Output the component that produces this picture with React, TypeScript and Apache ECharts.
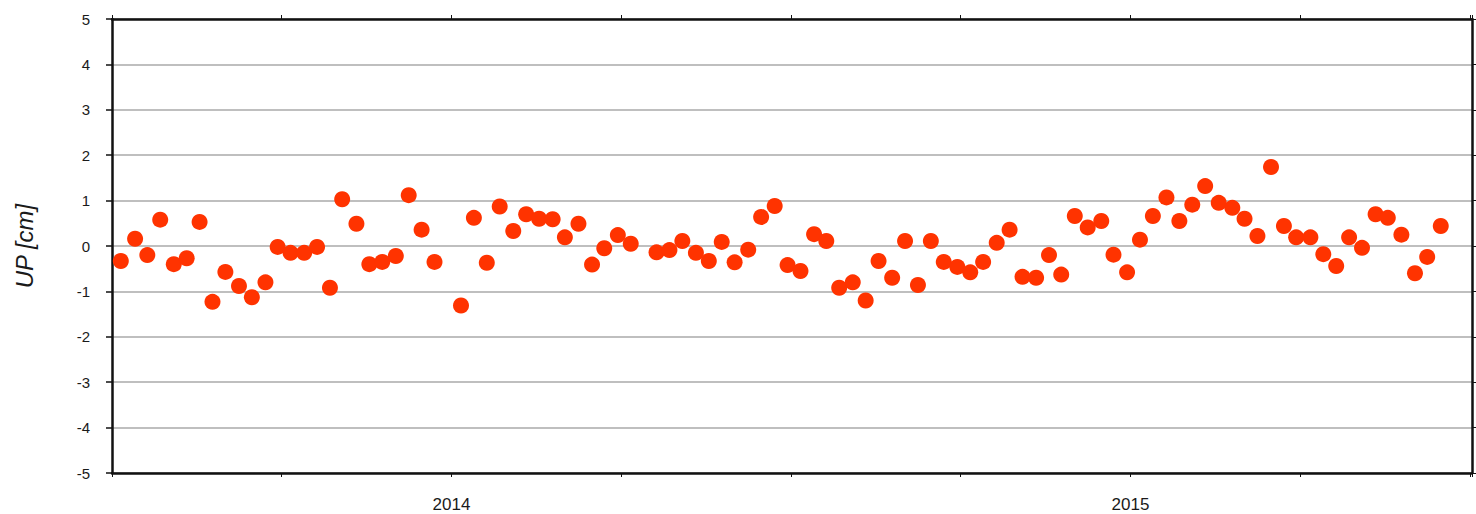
import React, { useEffect, useRef } from "react";
import * as echarts from "echarts";

const epochs: number[] = [
  2013.513, 2013.534, 2013.552, 2013.571, 2013.591, 2013.610, 2013.629, 2013.648, 2013.667, 2013.687,
  2013.706, 2013.726, 2013.744, 2013.763, 2013.783, 2013.802, 2013.821, 2013.839, 2013.860, 2013.879,
  2013.898, 2013.918, 2013.937, 2013.956, 2013.975,
  2014.014, 2014.033, 2014.052, 2014.071, 2014.091, 2014.110, 2014.129, 2014.149, 2014.167, 2014.187,
  2014.207, 2014.225, 2014.245, 2014.264,
  2014.302, 2014.321, 2014.340, 2014.360, 2014.379, 2014.398, 2014.417, 2014.437, 2014.456, 2014.476,
  2014.495, 2014.514, 2014.534, 2014.552, 2014.571, 2014.591, 2014.610, 2014.629, 2014.649, 2014.668,
  2014.687, 2014.706, 2014.725, 2014.745, 2014.764, 2014.783, 2014.803, 2014.822, 2014.841, 2014.861,
  2014.880, 2014.898, 2014.918, 2014.937, 2014.957, 2014.975, 2014.995, 2015.014, 2015.033, 2015.053,
  2015.072, 2015.091, 2015.110, 2015.130, 2015.150, 2015.168, 2015.187, 2015.207, 2015.226, 2015.244,
  2015.265, 2015.284, 2015.303, 2015.322, 2015.341, 2015.361, 2015.379, 2015.399, 2015.419, 2015.437,
  2015.457,
];

// UP displacement [cm]
const upValues: number[] = [
  -0.33, 0.16, -0.20, 0.58, -0.40, -0.27, 0.53, -1.23, -0.57, -0.88,
  -1.13, -0.80, -0.02, -0.15, -0.15, -0.02, -0.92, 1.03, 0.49, -0.40,
  -0.35, -0.22, 1.12, 0.36, -0.35,
  -1.31, 0.62, -0.37, 0.87, 0.33, 0.70, 0.60, 0.59, 0.19, 0.49,
  -0.41, -0.05, 0.24, 0.05,
  -0.14, -0.09, 0.11, -0.15, -0.33, 0.09, -0.36, -0.08, 0.64, 0.88,
  -0.42, -0.55, 0.26, 0.11, -0.92, -0.80, -1.20, -0.33, -0.70, 0.11,
  -0.86, 0.11, -0.35, -0.46, -0.58, -0.35, 0.07, 0.36, -0.68, -0.70,
  -0.20, -0.63, 0.66, 0.41, 0.55, -0.19, -0.58, 0.14, 0.66, 1.07,
  0.55, 0.91, 1.32, 0.95, 0.84, 0.60, 0.22, 1.74, 0.44, 0.19,
  0.19, -0.18, -0.44, 0.19, -0.04, 0.70, 0.62, 0.25, -0.60, -0.24,
  0.44,
];

const xMin = 2013.5;
const xMax = 2015.503;
const xInterval = 0.25;
const yMin = -5;
const yMax = 5;
const yInterval = 1;
const yAxisTitle = "UP [cm]";

const FONT = "'Liberation Sans', Arial, Helvetica, sans-serif";

export default function App() {
  const ref = useRef<HTMLDivElement>(null);

  useEffect(() => {
    if (!ref.current) return;
    const chart = echarts.init(ref.current, null, { renderer: "svg" });

    const yearLabel = (v: number) =>
      Math.abs(v - Math.round(v)) < 1e-6 ? String(Math.round(v)) : "";

    const frameLine = { show: true, lineStyle: { color: "#111", width: 2.5 } };

    chart.setOption({
      animation: false,
      backgroundColor: "#ffffff",
      grid: { left: 112, top: 19, width: 1360, height: 454, containLabel: false },
      xAxis: [
        {
          type: "value",
          position: "bottom",
          min: xMin,
          max: xMax,
          interval: xInterval,
          axisLine: { ...frameLine, onZero: false },
          axisTick: { show: true, length: 4, lineStyle: { color: "#111", width: 1 } },
          axisLabel: {
            formatter: yearLabel,
            margin: 23,
            fontSize: 17,
            color: "#1a1a1a",
            fontFamily: FONT,
            showMinLabel: true,
            showMaxLabel: true,
          },
          splitLine: { show: false },
        },
        {
          type: "value",
          position: "top",
          min: xMin,
          max: xMax,
          interval: xInterval,
          axisLine: { ...frameLine, onZero: false },
          axisTick: { show: true, length: 4, lineStyle: { color: "#111", width: 1 } },
          axisLabel: { show: false },
          splitLine: { show: false },
        },
      ],
      yAxis: [
        {
          type: "value",
          position: "left",
          min: yMin,
          max: yMax,
          interval: yInterval,
          name: yAxisTitle,
          nameLocation: "middle",
          nameGap: 76,
          nameRotate: 90,
          nameTextStyle: {
            fontSize: 24,
            fontStyle: "italic",
            color: "#1a1a1a",
            fontFamily: FONT,
          },
          axisLine: { ...frameLine, onZero: false },
          axisTick: { show: true, length: 6, lineStyle: { color: "#111", width: 1.5 } },
          axisLabel: { margin: 22, fontSize: 15, color: "#1a1a1a", fontFamily: FONT },
          splitLine: { show: true, lineStyle: { color: "#aaaaaa", width: 1.5 } },
        },
        {
          type: "value",
          position: "right",
          min: yMin,
          max: yMax,
          interval: yInterval,
          axisLine: { ...frameLine, onZero: false },
          axisTick: { show: true, length: 4, lineStyle: { color: "#111", width: 1 } },
          axisLabel: { show: false },
          splitLine: { show: false },
        },
      ],
      series: [
        {
          type: "scatter",
          xAxisIndex: 0,
          yAxisIndex: 0,
          symbol: "circle",
          symbolSize: 16,
          itemStyle: { color: "#ff3300", opacity: 1 },
          data: epochs.map((t, i) => [t, upValues[i]]),
          z: 5,
        },
      ],
    });

    return () => chart.dispose();
  }, []);

  return (
    <div
      ref={ref}
      style={{ position: "absolute", left: 0, top: 0, width: 1476, height: 514 }}
    />
  );
}
